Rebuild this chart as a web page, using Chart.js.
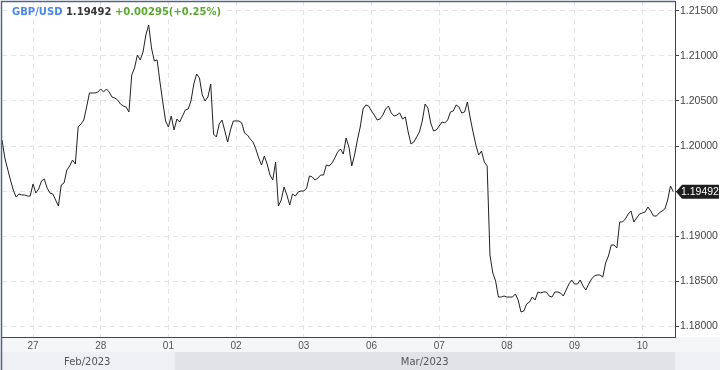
<!DOCTYPE html>
<html><head><meta charset="utf-8">
<script src="https://cdn.jsdelivr.net/npm/chart.js@4.4.1/dist/chart.umd.min.js"></script>
<style>html,body{margin:0;padding:0;background:#fff}#wrap{width:720px;height:370px;position:relative}</style>
</head><body><div id="wrap"><canvas id="c" width="720" height="370"></canvas></div>
<script>
const symbol = 'GBP/USD';
const lastPriceText = '1.19492';
const changeText = '+0.00295(+0.25%)';
const dayLabels = ['27','28','01','02','03','06','07','08','09','10'];
const monthLabels = ['Feb/2023','Mar/2023'];
const yTickValues = [1.180,1.185,1.190,1.195,1.200,1.205,1.210,1.215];
const firstHour = -11;   // hourly series starts 11 h before the "27" session
const hoursPerDay = 24;
const prices = [
 1.20067,1.19867,1.19744,1.19622,1.19511,1.19433,1.19467,1.19456,1.19456,1.19444,1.19444,
 1.19578,1.19478,1.19522,1.19611,1.19633,1.19533,1.19478,1.19467,1.19400,1.19333,1.19567,1.19589,
 1.19733,1.19778,1.19844,1.19800,1.20211,1.20244,1.20289,1.20433,1.20589,1.20589,1.20589,1.20600,
 1.20633,1.20600,1.20633,1.20600,1.20544,1.20533,1.20511,1.20467,1.20444,1.20433,1.20378,1.20789,
 1.20867,1.21011,1.20956,1.21044,1.21233,1.21344,1.21089,1.20944,1.20956,1.20711,1.20489,1.20278,
 1.20211,1.20333,1.20178,1.20300,1.20267,1.20333,1.20400,1.20411,1.20500,1.20689,1.20800,1.20756,
 1.20567,1.20500,1.20544,1.20689,1.20133,1.20100,1.20244,1.20289,1.20167,1.20044,1.20178,1.20278,
 1.20278,1.20278,1.20256,1.20144,1.20122,1.20078,1.20044,1.19967,1.19867,1.19789,1.19889,1.19800,
 1.19678,1.19622,1.19822,1.19333,1.19400,1.19544,1.19456,1.19344,1.19467,1.19444,1.19489,1.19500,
 1.19500,1.19533,1.19667,1.19656,1.19622,1.19644,1.19678,1.19678,1.19789,1.19778,1.19811,1.19867,
 1.19933,1.19967,1.19911,1.20089,1.19989,1.19778,1.19900,1.20067,1.20211,1.20411,1.20456,1.20444,
 1.20389,1.20344,1.20289,1.20300,1.20344,1.20411,1.20444,1.20367,1.20333,1.20344,1.20367,1.20300,
 1.20322,1.20156,1.20022,1.20044,1.20100,1.20156,1.20278,1.20467,1.20422,1.20256,1.20167,1.20178,
 1.20222,1.20267,1.20256,1.20289,1.20378,1.20389,1.20456,1.20433,1.20367,1.20378,1.20489,1.20311,
 1.20156,1.20011,1.19900,1.19944,1.19822,1.19778,1.18789,1.18589,1.18500,1.18322,1.18322,1.18333,
 1.18322,1.18322,1.18322,1.18356,1.18289,1.18156,1.18167,1.18244,1.18267,1.18322,1.18289,1.18378,
 1.18367,1.18378,1.18378,1.18333,1.18322,1.18378,1.18378,1.18367,1.18333,1.18400,1.18467,1.18511,
 1.18467,1.18467,1.18511,1.18444,1.18400,1.18467,1.18522,1.18556,1.18567,1.18567,1.18544,1.18700,
 1.18778,1.18900,1.18900,1.18867,1.19156,1.19156,1.19189,1.19244,1.19278,1.19156,1.19200,1.19244,
 1.19256,1.19267,1.19322,1.19278,1.19222,1.19222,1.19256,1.19278,1.19300,1.19400,1.19556,1.19492
];

const points = prices.map((p, i) => ({x: firstHour + i, y: p}));

const decorPlugin = {
  id: 'decor',
  beforeDraw(chart) {
    const {ctx, chartArea: a, width, height} = chart;
    const xs = chart.scales.x;
    ctx.save();
    ctx.fillStyle = '#ffffff';
    ctx.fillRect(0, 0, width, height);
    ctx.fillStyle = '#f5f6f8';
    ctx.fillRect(0, a.bottom, width, 15);
    const marStart = xs.getPixelForValue(2 * hoursPerDay) + 6;
    const bandTop = a.bottom + 15;
    ctx.fillStyle = '#eef0f3';
    ctx.fillRect(0, bandTop, marStart, height - bandTop);
    ctx.fillStyle = '#e2e3e6';
    ctx.fillRect(marStart, bandTop, a.right - marStart, height - bandTop);
    ctx.fillStyle = '#eef0f3';
    ctx.fillRect(a.right, bandTop, width - a.right, height - bandTop);
    ctx.fillStyle = '#555';
    ctx.font = '10px "DejaVu Sans"';
    ctx.textAlign = 'center';
    ctx.textBaseline = 'middle';
    const cy = bandTop + (height - bandTop) / 2 + 1;
    ctx.fillText(monthLabels[0], marStart / 2, cy);
    ctx.fillText(monthLabels[1], (marStart + a.right) / 2, cy);
    ctx.restore();
  },
  afterDraw(chart) {
    const {ctx, chartArea: a, height} = chart;
    const ys = chart.scales.y;
    ctx.save();
    ctx.strokeStyle = '#52648a';
    ctx.lineWidth = 1.5;
    ctx.beginPath();
    ctx.moveTo(1.5, height); ctx.lineTo(1.5, a.top + 0.5); ctx.lineTo(a.right, a.top + 0.5);
    ctx.stroke();
    ctx.font = 'bold 10px "DejaVu Sans"';
    ctx.textBaseline = 'middle';
    ctx.textAlign = 'left';
    let x = 12; const ty = 12;
    const parts = [[symbol, '#4a86e8'], [' ' + lastPriceText, '#383838'], [' ' + changeText, '#5aa832']];
    const total = parts.reduce((s, p) => s + ctx.measureText(p[0]).width, 0);
    ctx.fillStyle = '#fff';
    ctx.fillRect(x - 2, ty - 6, total + 4, 12);
    for (const [t, c] of parts) { ctx.fillStyle = c; ctx.fillText(t, x, ty); x += ctx.measureText(t).width; }
    const py = ys.getPixelForValue(prices[prices.length - 1]);
    const x0 = a.right + 1;
    ctx.fillStyle = '#1e1e1e';
    ctx.beginPath();
    ctx.moveTo(x0, py); ctx.lineTo(x0 + 6, py - 7); ctx.lineTo(719, py - 7); ctx.lineTo(719, py + 7); ctx.lineTo(x0 + 6, py + 7);
    ctx.closePath(); ctx.fill();
    ctx.fillStyle = '#fff';
    ctx.font = '10.5px "Liberation Sans"';
    ctx.fillText(lastPriceText, x0 + 5, py + 0.5);
    ctx.restore();
  }
};

new Chart(document.getElementById('c'), {
  type: 'line',
  data: { datasets: [{ data: points, borderColor: '#222', borderWidth: 1, pointRadius: 0, tension: 0, fill: false }] },
  options: {
    responsive: false, animation: false,
    layout: { padding: { top: 1, left: 2, right: 0, bottom: 0 } },
    plugins: { legend: { display: false }, tooltip: { enabled: false } },
    scales: {
      x: {
        type: 'linear', min: firstHour, max: 227.6,
        afterBuildTicks: s => { s.ticks = dayLabels.map((_, k) => ({ value: k * hoursPerDay })); },
        afterFit: s => { s.height = 33; s.paddingLeft = 0; s.paddingRight = 0; },
        grid: { color: '#e4e4e4', drawTicks: false, lineWidth: 1 },
        border: { color: '#444', width: 1, dash: [5, 4] },
        ticks: { color: '#555', font: { size: 10, family: '"Liberation Sans"' }, padding: 3, maxRotation: 0, autoSkip: false,
                 callback: v => dayLabels[Math.round(v / hoursPerDay)] }
      },
      y: {
        position: 'right', min: 1.17878, max: 1.21611,
        afterBuildTicks: s => { s.ticks = yTickValues.map(v => ({ value: v })); },
        afterFit: s => { s.width = 45; s.paddingTop = 0; s.paddingBottom = 0; },
        grid: { color: '#e4e4e4', tickColor: '#444', tickLength: 4, tickBorderDash: [], lineWidth: 1 },
        border: { color: '#444', width: 1, dash: [5, 4] },
        ticks: { color: '#444', font: { size: 10.5, family: '"Liberation Sans"' }, padding: 1, callback: v => v.toFixed(5) }
      }
    }
  },
  plugins: [decorPlugin]
});
</script></body></html>
